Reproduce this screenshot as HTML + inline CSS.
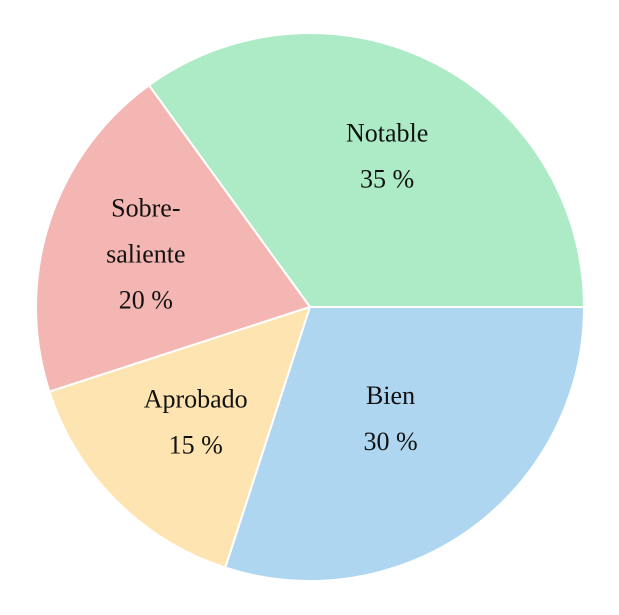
<!DOCTYPE html>
<html><head><meta charset="utf-8">
<style>
html,body{margin:0;padding:0;background:#fff;width:619px;height:615px;overflow:hidden}
svg text{font-family:"Liberation Serif",serif;font-size:26px;fill:#111}
</style></head>
<body>
<svg id="chart" width="619" height="615" xmlns="http://www.w3.org/2000/svg"></svg>
<script>
const categories = ["Notable", "Sobresaliente", "Aprobado", "Bien"];
const labelLines = [["Notable"], ["Sobre-", "saliente"], ["Aprobado"], ["Bien"]];
const values = [35, 20, 15, 30];
const valueLabels = ["35 %", "20 %", "15 %", "30 %"];
const colors = ["#acebc5", "#f4b6b2", "#fee4b0", "#aed6f0"];

const svg = document.getElementById('chart');
const NS = "http://www.w3.org/2000/svg";
const cx = 310, cy = 307, R = 274;
const labelRadiusFrac = [0.62, 0.63, 0.59, 0.5];
const total = values.reduce((a, b) => a + b, 0);
function pt(angDeg, r) {
  const a = angDeg * Math.PI / 180;
  return [cx + r * Math.cos(a), cy - r * Math.sin(a)];
}
let start = 0;
values.forEach((v, i) => {
  const sweep = v / total * 360;
  const end = start + sweep;
  const [x1, y1] = pt(start, R), [x2, y2] = pt(end, R);
  const large = sweep > 180 ? 1 : 0;
  const p = document.createElementNS(NS, 'path');
  p.setAttribute('d', `M${cx},${cy} L${x1},${y1} A${R},${R} 0 ${large} 0 ${x2},${y2} Z`);
  p.setAttribute('fill', colors[i]);
  p.setAttribute('stroke', '#fff');
  p.setAttribute('stroke-width', '2');
  
  
  svg.appendChild(p);

  const mid = start + sweep / 2;
  const [lx, ly] = pt(mid, R * labelRadiusFrac[i]);
  const lines = labelLines[i].concat([valueLabels[i]]);
  const lh = 46;
  const y0 = ly - (lines.length - 1) * lh / 2;
  lines.forEach((t, j) => {
    const tx = document.createElementNS(NS, 'text');
    tx.setAttribute('x', lx);
    tx.setAttribute('y', y0 + j * lh + 9);
    tx.setAttribute('text-anchor', 'middle');
    tx.textContent = t;
    
    
    svg.appendChild(tx);
  });
  start = end;
});
</script>
</body></html>
